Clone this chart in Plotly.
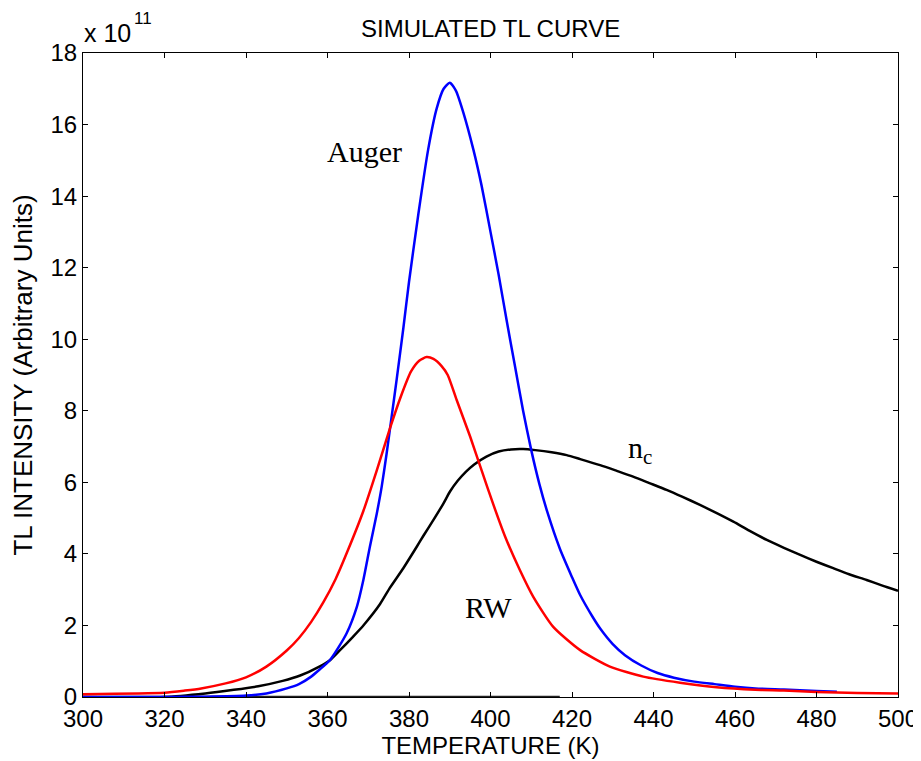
import plotly.graph_objects as go

# Temperature (K) and TL intensity (x 1e11)
auger_T = [300, 320, 330, 340, 345, 350, 353, 356, 358, 360.6, 362.5, 364.7, 367.2, 368.8,
           370.4, 372.1, 373.3, 374.5, 375.7, 377, 378.6, 380, 382.3, 384.7, 386.8, 388.5,
           390, 391.5, 393.3, 395.8, 397.8, 400, 402, 404, 406, 408, 410, 412, 414, 417,
           420, 422, 425, 427, 430, 433, 437, 441, 445, 450, 455, 460, 465, 472, 480, 485]
auger_I = [0, 0, 0.01, 0.04, 0.1, 0.24, 0.36, 0.57, 0.76, 1.03, 1.35, 1.78, 2.52, 3.27,
           4.2, 5.13, 5.88, 6.8, 7.8, 8.9, 10.3, 11.6, 13.5, 15.3, 16.45, 17.0,
           17.17, 16.95, 16.35, 15.3, 14.3, 13.0, 11.8, 10.5, 9.25, 8.0, 6.9, 5.95, 5.15, 4.15,
           3.35, 2.85, 2.25, 1.9, 1.48, 1.17, 0.88, 0.67, 0.54, 0.43, 0.36, 0.29, 0.24, 0.21, 0.17, 0.15]

rw_T = [300, 320, 325, 329, 335, 340, 345, 350, 353, 356, 359, 362, 365, 368.8, 372, 375.3,
        378, 380.5, 382.5, 384.3, 386, 388, 389.5, 391.7, 395, 397.8, 400.6, 403.6, 407.2,
        410.5, 415.4, 422, 429.3, 437.5, 446.5, 455.5, 465, 472, 480, 490, 500]
rw_I = [0.08, 0.12, 0.18, 0.24, 0.38, 0.55, 0.85, 1.3, 1.65, 2.1, 2.65, 3.3, 4.1, 5.2, 6.3, 7.5,
        8.4, 9.1, 9.4, 9.5, 9.45, 9.25, 9.0, 8.3, 7.28, 6.34, 5.41, 4.48, 3.55,
        2.8, 1.96, 1.31, 0.85, 0.57, 0.4, 0.27, 0.2, 0.18, 0.14, 0.11, 0.1]

nc_T = [300, 320, 330, 337, 343, 349, 353.3, 358, 360.6, 363, 366.3, 368.8, 372.9, 375.3,
        378.6, 381.9, 383.5, 386, 388.4, 390.1, 392, 394, 396, 399, 402, 405, 408, 411,
        415, 418.7, 422, 426.9, 431, 435, 439, 443.2, 447, 451.4, 455.9, 459.6, 463.5,
        467.8, 472, 476, 480, 484.1, 488, 492.3, 496, 500]
nc_I = [0, 0, 0.1, 0.2, 0.3, 0.45, 0.6, 0.85, 1.03, 1.3, 1.69, 2.0, 2.6, 3.05,
        3.6, 4.2, 4.5, 4.95, 5.4, 5.75, 6.05, 6.3, 6.5, 6.72, 6.86, 6.92, 6.93, 6.9,
        6.84, 6.76, 6.65, 6.48, 6.32, 6.16, 5.98, 5.79, 5.6, 5.37, 5.12, 4.9, 4.65,
        4.39, 4.17, 3.97, 3.78, 3.6, 3.43, 3.27, 3.12, 2.97]

base_T = [300, 417]
base_I = [0, 0]

x_ticks = [300, 320, 340, 360, 380, 400, 420, 440, 460, 480, 500]
y_ticks = [0, 2, 4, 6, 8, 10, 12, 14, 16, 18]

labels = [("Auger", 369.2, 15.25), ("RW", 399.6, 2.5), ("n<sub>c</sub>", 436.6, 6.9)]

fig = go.Figure()
fig.add_trace(go.Scatter(x=base_T, y=base_I, mode="lines",
                         line=dict(color="#222222", width=2.5), showlegend=False))
fig.add_trace(go.Scatter(x=nc_T, y=nc_I, mode="lines",
                         line=dict(color="black", width=2.5, shape="spline", smoothing=0.6),
                         showlegend=False))
fig.add_trace(go.Scatter(x=auger_T, y=auger_I, mode="lines",
                         line=dict(color="#0000FF", width=2.5, shape="spline", smoothing=0.6),
                         showlegend=False))
fig.add_trace(go.Scatter(x=rw_T, y=rw_I, mode="lines",
                         line=dict(color="#FF0000", width=2.5, shape="spline", smoothing=0.6),
                         showlegend=False))

for txt, xv, yv in labels:
    fig.add_annotation(x=xv, y=yv, xref="x", yref="y", text=txt, showarrow=False,
                       font=dict(family="Liberation Serif", size=30, color="black"))

# axis multiplier "x 10^11"
fig.add_annotation(x=0, y=1, xref="paper", yref="paper", xanchor="left", yanchor="middle",
                   xshift=-1, yshift=20, text="x 10", showarrow=False,
                   font=dict(family="Liberation Sans", size=25, color="black"))
fig.add_annotation(x=0, y=1, xref="paper", yref="paper", xanchor="left", yanchor="middle",
                   xshift=49, yshift=35, text="11", showarrow=False,
                   font=dict(family="Liberation Sans", size=17, color="black"))

fig.add_annotation(x=0.5, y=1, xref="paper", yref="paper", xanchor="center", yanchor="middle",
                   yshift=25, text="SIMULATED TL CURVE", showarrow=False,
                   font=dict(family="Liberation Sans", size=24, color="black"))

axis_common = dict(showline=True, linecolor="black", linewidth=1, mirror="ticks",
                   ticks="inside", ticklen=5, tickcolor="black", showgrid=False,
                   zeroline=False, automargin=False,
                   tickfont=dict(family="Liberation Sans", size=24, color="black"))

fig.update_xaxes(range=[300, 500], tickvals=x_ticks, ticktext=[str(v) for v in x_ticks],
                 title=dict(text="TEMPERATURE (K)", standoff=4,
                            font=dict(family="Liberation Sans", size=24, color="black")),
                 **axis_common)
fig.update_yaxes(range=[0, 18], tickvals=y_ticks, ticktext=[str(v) for v in y_ticks],
                 title=dict(text="TL INTENSITY (Arbitrary Units)", standoff=14,
                            font=dict(family="Liberation Sans", size=26, color="black")),
                 **axis_common)

# page body has an 8px margin, so the figure is drawn 8px in from the top-left corner
fig.update_layout(
    width=913, height=753,
    margin=dict(l=75, r=23, t=45, b=64),
    paper_bgcolor="white", plot_bgcolor="white",
    showlegend=False,
)

fig.write_html("out.html")
